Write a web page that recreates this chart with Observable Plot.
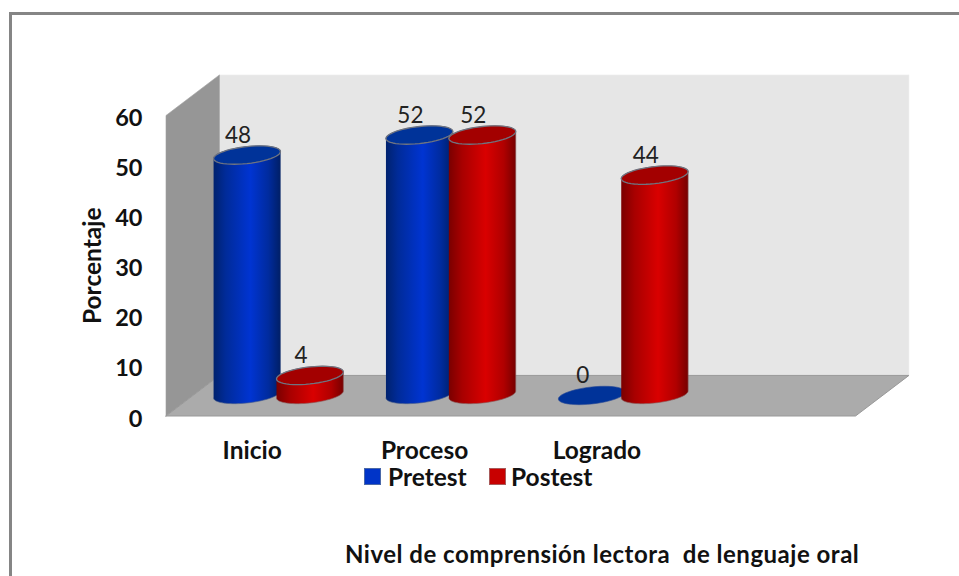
<!DOCTYPE html>
<html>
<head>
<meta charset="utf-8">
<script src="https://cdn.jsdelivr.net/npm/d3@7"></script>
<script src="https://cdn.jsdelivr.net/npm/@observablehq/plot@0.6"></script>
<style>
html,body{margin:0;padding:0;background:#fff;width:959px;height:576px;overflow:hidden}
#wrap{position:relative;width:959px;height:576px;font-family:Lato,sans-serif;color:#111}
#wrap svg{position:absolute;left:0;top:0}
#border{position:absolute;left:9px;top:12px;right:-5px;bottom:-5px;border:3px solid #858585;box-sizing:border-box}
.lab{position:absolute;font-weight:700;line-height:1;white-space:pre}
.sw{position:absolute;width:15px;height:15px;top:468px;border:1.5px solid}
</style>
</head>
<body>
<div id="wrap"><div id="border"></div></div>
<script>
const categories = ["Inicio", "Proceso", "Logrado"];
const pretest = [48, 52, 0];
const postest = [4, 52, 44];
const yTicks = [0, 10, 20, 30, 40, 50, 60];
const seriesNames = ["Pretest", "Postest"];
const axisTitle = "Porcentaje";
const xTitle = "Nivel de comprensión lectora  de lenguaje oral";

// projection of the 3D box, in data units
const slots = 4, depthX = 0.31, depthY = 8.1, topY = 60;
const baseY = 4.3, halfW = 0.194, tiltY = 0.7, halfH = 1.7;
const offsets = [0.47, 0.835];
const look = [
  {body: "url(#gradBlue)", top: "#003399", edge: "#4a5f8c"},
  {body: "url(#gradRed)", top: "#a30000", edge: "#8a5a5a"}
];

function ellipse(cx, cy, from, to, n = 36) {
  return d3.range(n + 1).map(i => {
    const t = from + (to - from) * i / n;
    return [cx + halfW * Math.cos(t), cy + tiltY * Math.cos(t) + halfH * Math.sin(t)];
  });
}
function cylinderMarks(value, cat, s) {
  const cx = cat + offsets[s], topC = value + baseY - 0.2, st = look[s], marks = [];
  if (value > 0) {
    const outline = [...ellipse(cx, baseY, Math.PI, 2 * Math.PI), ...ellipse(cx, topC, 0, Math.PI, 18)];
    marks.push(Plot.line(outline, {fill: st.body, stroke: st.edge, strokeWidth: 0.8, strokeOpacity: 0.8}));
    marks.push(Plot.line(ellipse(cx, topC, 0, 2 * Math.PI, 48), {fill: st.top, stroke: "#6f7480", strokeWidth: 1.3}));
  } else {
    marks.push(Plot.line(ellipse(cx, topC, 0, 2 * Math.PI, 48), {fill: st.top, stroke: "#2a4a95", strokeWidth: 0.6}));
  }
  return marks;
}

const rows = [];
categories.forEach((c, i) => {
  rows.push({cat: i, s: 0, v: pretest[i]});
  rows.push({cat: i, s: 1, v: postest[i]});
});

const svg = Plot.plot({
  width: 959, height: 576,
  marginLeft: 165.5, marginRight: 104, marginTop: 115, marginBottom: 160.5,
  style: {background: "transparent", overflow: "visible"},
  x: {domain: [0, slots]},
  y: {domain: [0, topY]},
  marks: [
    Plot.line([[depthX, depthY], [depthX, topY + depthY], [slots + depthX, topY + depthY], [slots + depthX, depthY], [depthX, depthY]],
      {fill: "#e6e6e6", stroke: "#ececec", strokeWidth: 0.6}),
    Plot.line([[0, 0], [0, topY], [depthX, topY + depthY], [depthX, depthY], [0, 0]],
      {fill: "#969696", stroke: "#a0a0a0", strokeWidth: 0.6}),
    Plot.line([[0, 0], [slots, 0], [slots + depthX, depthY], [depthX, depthY], [0, 0]],
      {fill: "#ababab", stroke: "#999999", strokeWidth: 1}),
    Plot.axisY({ticks: yTicks, tickSize: 0, tickPadding: 23.5, label: null, fontSize: 23.5, fontWeight: 700, fontFamily: "Lato", dy: 3, fill: "#111"}),
    Plot.axisX({ticks: categories.map((c, i) => i + 0.5), tickFormat: d => categories[Math.floor(d)], tickSize: 0, tickPadding: 25.5, label: null, fontSize: 24.5, fontWeight: 700, fontFamily: "Lato", fill: "#111"}),
    Plot.text([axisTitle], {x: 0, y: 30, dx: -73, text: d => d, rotate: -90, fontSize: 24.5, fontWeight: 700, fontFamily: "Lato", fill: "#111"}),
    ...rows.flatMap(r => cylinderMarks(r.v, r.cat, r.s)),
    Plot.text(rows, {x: d => d.cat + offsets[d.s], y: d => d.v + baseY, text: d => String(d.v), dx: -9, dy: -18.5, fontSize: 22.5, fontFamily: "Lato", fill: "#222"})
  ]
});

d3.select(svg).insert("defs", ":first-child").html(`
  <linearGradient id="gradBlue" x1="0" x2="1" y1="0" y2="0">
    <stop offset="0" stop-color="#00226e"/><stop offset="0.18" stop-color="#002b99"/>
    <stop offset="0.55" stop-color="#0034d2"/><stop offset="0.82" stop-color="#002b9e"/><stop offset="1" stop-color="#001f66"/>
  </linearGradient>
  <linearGradient id="gradRed" x1="0" x2="1" y1="0" y2="0">
    <stop offset="0" stop-color="#7a0000"/><stop offset="0.2" stop-color="#a80000"/>
    <stop offset="0.55" stop-color="#d90000"/><stop offset="0.82" stop-color="#b00000"/><stop offset="1" stop-color="#760000"/>
  </linearGradient>`);

const wrap = document.getElementById("wrap");
wrap.appendChild(svg);
function addLabel(text, left, top, size, spacing) {
  const el = document.createElement("div");
  el.className = "lab"; el.textContent = text;
  el.style.left = left + "px"; el.style.top = top + "px"; el.style.fontSize = size + "px";
  if (spacing) el.style.letterSpacing = spacing + "px";
  wrap.appendChild(el);
}
function addSwatch(left, bg, bd) {
  const el = document.createElement("div");
  el.className = "sw"; el.style.left = left + "px"; el.style.background = bg; el.style.borderColor = bd;
  wrap.appendChild(el);
}
addSwatch(364, "#0034c8", "#4a68a8");
addSwatch(489, "#c80000", "#a85a5a");
addLabel(seriesNames[0], 388, 464.5, 24.5);
addLabel(seriesNames[1], 511, 464.5, 24.5);
addLabel(xTitle, 345, 542, 24, 0.5);
</script>
</body>
</html>
